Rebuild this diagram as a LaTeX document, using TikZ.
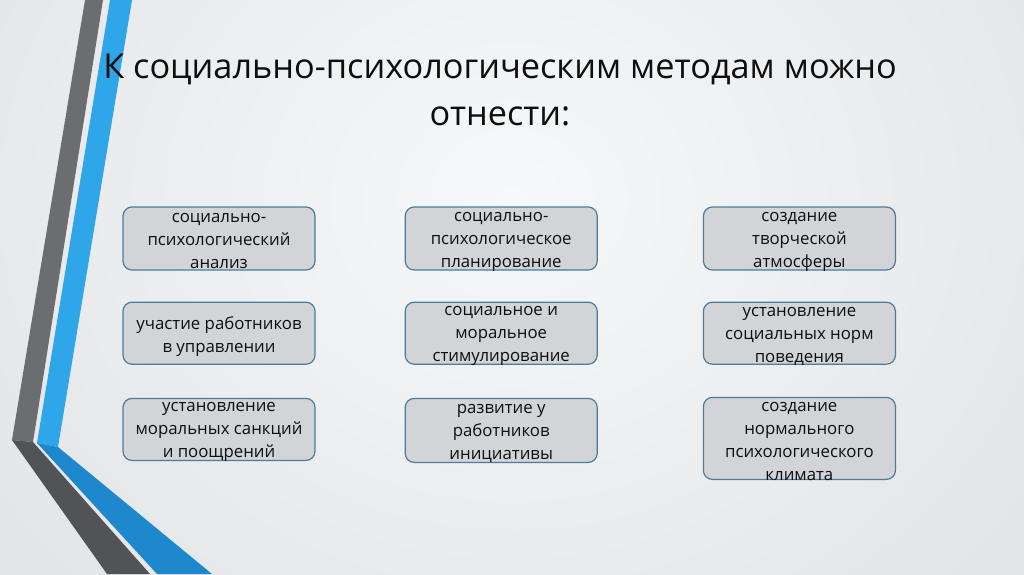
\documentclass[tikz,border=0pt]{standalone}
\usepackage{fontspec}
\setmainfont{Open Sans}
\usepackage{xcolor}
\usetikzlibrary{positioning}

\definecolor{bgin}{RGB}{247,248,249}
\definecolor{bgmid}{RGB}{222,224,226}
\definecolor{bgout}{RGB}{196,199,202}
\definecolor{stripeblue}{RGB}{46,166,233}
\definecolor{stripebluedark}{RGB}{30,136,204}
\definecolor{stripegray}{RGB}{108,109,112}
\definecolor{stripegraydark}{RGB}{82,83,86}
\definecolor{boxfill}{RGB}{210,212,215}
\definecolor{boxline}{RGB}{76,124,156}
\definecolor{textcol}{RGB}{14,14,14}

\pgfdeclareradialshading{bgshade}{\pgfpoint{0bp}{0bp}}{%
  color(0bp)=(bgin); color(30bp)=(bgmid); color(55bp)=(bgout); color(70bp)=(bgout)}

\begin{document}
\begin{tikzpicture}[
		x=1pt, y=1pt,
		box/.style={draw=boxline, fill=boxfill, line width=1.2pt,
			rounded corners=9pt, inner sep=0pt,
			minimum width=192pt, minimum height=63pt,
			font=\fontsize{16.8}{23}\selectfont, text=textcol,
			% fixed box: text may run over its edges
			execute at begin node={\vbox to 40pt\bgroup\hsize=190pt
				\parindent=0pt\centering\vss\kern6pt},
			execute at end node={\endgraf\vss\egroup}},
		heading/.style={align=center, text=textcol,
			font=\fontsize{34.3}{47}\selectfont},
		]
		
		\useasboundingbox (0,0) rectangle (1024,574);
		\begin{scope}
			\clip (0,0) rectangle (1024,574);
			\shade[shading=bgshade] (-150,-200) rectangle (1174,948);
		\end{scope}
		
		% stripes on the left
		\fill[stripegray] (85,574) -- (103,574) -- (33,132) -- (12,134) -- cycle;
		\fill[stripegraydark] (12,134) -- (33,132) -- (150,0) -- (107,0) -- cycle;
		\fill[stripeblue] (110,574) -- (132,574) -- (58,127) -- (37,131) -- cycle;
		\fill[stripebluedark] (37,131) -- (58,127) -- (212,0) -- (157,0) -- cycle;
		
		\node[heading] (title) at (500,483.5)
		{К социально-психологическим методам можно\\отнести:};
		
		\node[box] (analiz) at (219,335.5)
		{социально-\\психологический\\анализ};
		\node[box, right=89pt of analiz] (planirovanie)
		{социально-\\психологическое\\планирование};
		\node[box, right=105pt of planirovanie] (atmosfera)
		{создание\\творческой\\атмосферы};
		
		\node[box, below=31pt of analiz, minimum height=62pt] (uchastie)
		{участие работников\\в управлении};
		\node[box, below=31pt of planirovanie, minimum height=62pt] (stimul)
		{социальное и\\моральное\\стимулирование};
		\node[box, below=31pt of atmosfera, minimum height=62pt] (normy)
		{установление\\социальных норм\\поведения};
		
		\node[box, below=33pt of uchastie, minimum height=62pt] (sankcii)
		{установление\\моральных санкций\\и поощрений};
		\node[box, below=33pt of stimul, minimum height=64pt] (iniciativa)
		{развитие у\\работников\\инициативы};
		\node[box, below=32pt of normy, minimum height=82pt] (klimat)
		{создание\\нормального\\психологического\\климата};
		
	\end{tikzpicture}
\end{document}
